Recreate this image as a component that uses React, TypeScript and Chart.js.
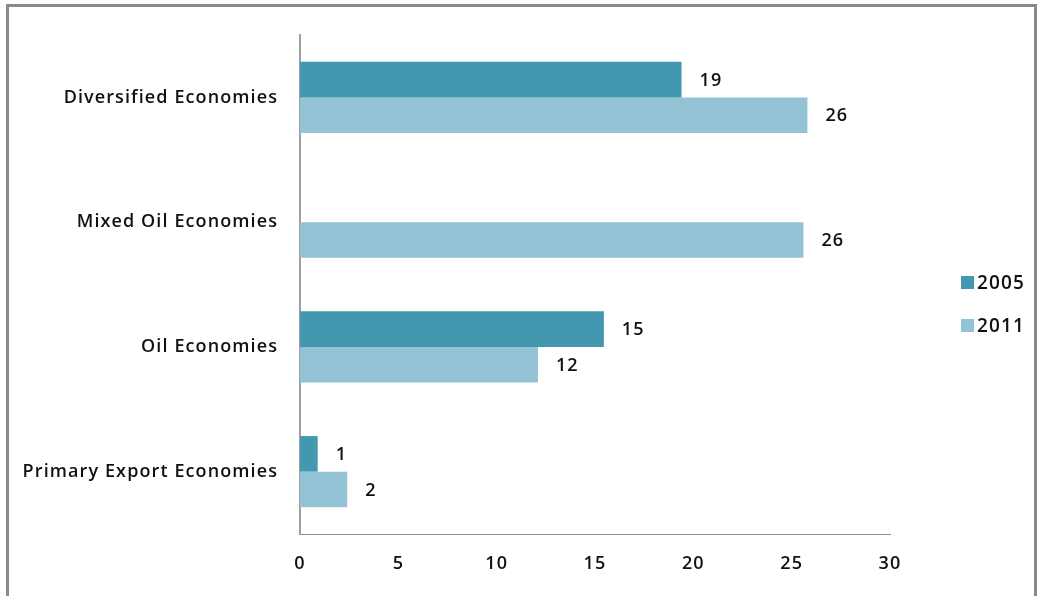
import React, { useEffect, useRef } from "react";
import { Chart, registerables } from "chart.js";

Chart.register(...registerables);

const categories = [
  "Diversified Economies",
  "Mixed Oil Economies",
  "Oil Economies",
  "Primary Export Economies",
];
const series2005: (number | null)[] = [19.4, null, 15.45, 0.9];
const series2011: number[] = [25.8, 25.6, 12.1, 2.4];
const seriesNames = ["2005", "2011"];
const seriesColors = ["#4398AF", "#93C3D4"];
const xTicks = [0, 5, 10, 15, 20, 25, 30];

const FONT = "'Open Sans', 'DejaVu Sans', sans-serif";

const spacingPlugin = {
  id: "spacing",
  beforeDraw(chart: any) {
    (chart.ctx as any).letterSpacing = "1.1px";
  },
};

const labelPlugin = {
  id: "valueLabels",
  afterDatasetsDraw(chart: any) {
    const ctx = chart.ctx;
    ctx.save();
    ctx.font = `600 18px ${FONT}`;
    ctx.fillStyle = "#111";
    ctx.textAlign = "left";
    ctx.textBaseline = "middle";
    chart.data.datasets.forEach((ds: any, i: number) => {
      const meta = chart.getDatasetMeta(i);
      meta.data.forEach((bar: any, j: number) => {
        const v = ds.data[j];
        if (v === null || v === undefined) return;
        ctx.fillText(String(Math.round(v)), bar.x + 18, bar.y + 1);
      });
    });
    ctx.restore();
  },
};

const legendPlugin = {
  id: "customLegend",
  afterDraw(chart: any) {
    const ctx = chart.ctx;
    ctx.save();
    ctx.font = `600 19px ${FONT}`;
    ctx.textAlign = "left";
    ctx.textBaseline = "middle";
    const ys = [283, 326];
    seriesNames.forEach((name, i) => {
      ctx.fillStyle = seriesColors[i];
      ctx.fillRect(961, ys[i] - 7, 13, 13);
      ctx.fillStyle = "#111";
      ctx.fillText(name, 977, ys[i] + 1);
    });
    ctx.restore();
  },
};

export default function App() {
  const ref = useRef<HTMLCanvasElement>(null);
  useEffect(() => {
    if (!ref.current) return;
    const chart = new Chart(ref.current, {
      type: "bar",
      data: {
        labels: categories,
        datasets: [
          {
            label: seriesNames[0],
            data: series2005,
            backgroundColor: seriesColors[0],
            categoryPercentage: 0.57,
            barPercentage: 1,
          },
          {
            label: seriesNames[1],
            data: series2011,
            backgroundColor: seriesColors[1],
            categoryPercentage: 0.57,
            barPercentage: 1,
          },
        ],
      },
      options: {
        indexAxis: "y",
        responsive: false,
        animation: false,
        layout: { padding: { top: 35, right: 152, left: 0, bottom: 0 } },
        plugins: {
          legend: { display: false },
          tooltip: { enabled: false },
          title: { display: false },
        },
        scales: {
          x: {
            min: 0,
            max: 30,
            afterBuildTicks: (scale: any) => {
              scale.ticks = xTicks.map((v) => ({ value: v }));
            },
            afterFit: (scale: any) => {
              scale.height = 62;
            },
            grid: { display: false, drawTicks: false },
            border: { display: true, color: "#8c8c8c", width: 1 },
            ticks: {
              color: "#111",
              padding: 19,
              font: { family: FONT, size: 18, weight: "600" },
            },
          },
          y: {
            afterFit: (scale: any) => {
              scale.width = 300;
            },
            grid: { display: false, drawTicks: false },
            border: { display: true, color: "#a0a0a0", width: 2 },
            ticks: {
              color: "#111",
              padding: 22,
              font: { family: FONT, size: 18, weight: "600" },
            },
          },
        },
      },
      plugins: [spacingPlugin, labelPlugin, legendPlugin],
    });
    return () => chart.destroy();
  }, []);

  return (
    <div style={{ position: "absolute", left: 0, top: 0, width: 1042, height: 596, overflow: "hidden" }}>
      <div
        style={{
          position: "absolute",
          left: 6,
          top: 4,
          width: 1031,
          height: 640,
          border: "3px solid #8a8a8a",
          borderBottom: "none",
          boxSizing: "border-box",
        }}
      />
      <canvas
        ref={ref}
        width={1042}
        height={596}
        style={{ position: "absolute", left: 0, top: 0, width: 1042, height: 596 }}
      />
    </div>
  );
}
